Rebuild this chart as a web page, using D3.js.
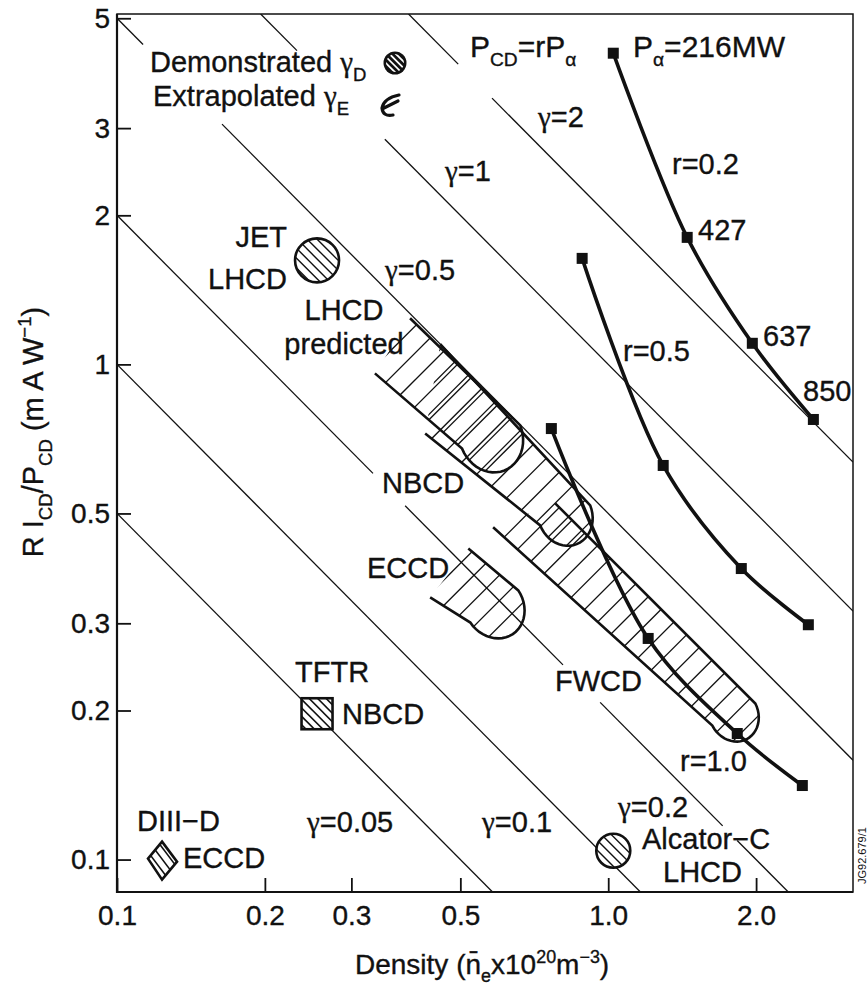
<!DOCTYPE html>
<html>
<head>
<meta charset="utf-8">
<script src="https://cdnjs.cloudflare.com/ajax/libs/d3/7.8.5/d3.min.js"></script>
<style>
  body { margin: 0; background: #fff; }
  svg text { font-family: "Liberation Sans", Arial, Helvetica, sans-serif; fill: #111; stroke: #111; stroke-width: 0.35; }
  svg text .gam { font-family: "Liberation Serif", "DejaVu Serif", serif; }
</style>
</head>
<body>
<svg id="chart" width="867" height="988"></svg>
<script>
// ---------------- data ----------------
var xTicks = [0.1, 0.2, 0.3, 0.5, 1.0, 2.0];
var yTicks = [0.1, 0.2, 0.3, 0.5, 1, 2, 3, 5];

// lines of constant gamma (RI/P = gamma / n)
var gammas = [0.05, 0.1, 0.2, 0.5, 1, 2];
// density ranges where a gamma line is broken for a label
var gammaGaps = {
  "0.2": [[0.332, 0.386], [0.809, 0.963], [1.71, 1.83]],
  "0.5": [[0.113, 0.1636]],
  "1":   [[0.2325, 0.351]],
  "2":   [[0.495, 0.58]]
};

// P_CD = r P_alpha curves  [density, RI/P]
var curveR02 = [[1.024, 4.25], [1.448, 1.805], [1.965, 1.103], [2.616, 0.774]];
var curveR05 = [[0.885, 1.637], [1.294, 0.625], [1.866, 0.387], [2.555, 0.298]];
var curveR10 = [[0.766, 0.742], [1.206, 0.2796], [1.831, 0.1797], [2.484, 0.1411]];

// demonstrated results
var jet     = [0.2554, 1.622];
var alcator = [1.024, 0.1042];
var tftr    = [0.2554, 0.197];
var diiid   = [0.1235, 0.0995];

// predicted regions: upper edge start/end, lower edge start/end
var regionLHCD = {ua: [0.395, 1.239], ub: [0.662, 0.753], la: [0.335, 0.959], lb: [0.504, 0.676]};
var regionNBCD = {ua: [0.455, 1.099], ub: [0.919, 0.519], la: [0.424, 0.725], lb: [0.727, 0.473]};
var regionFWCD = {ua: [0.78, 0.524],  ub: [1.993, 0.2066], la: [0.583, 0.469], lb: [1.629, 0.1865]};
var regionECCD = {ua: [0.519, 0.425], ub: [0.656, 0.3496], la: [0.434, 0.3383], lb: [0.524, 0.301]};

// ---------------- set up ----------------
var svg = d3.select("#chart");
var pLeft = 117, pRight = 853, pTop = 14, pBottom = 892;
var fs = 29;

var x = d3.scaleLog().domain([0.1, 3.15]).range([pLeft, pRight]);
var y = d3.scaleLog().domain([0.086, 5.1]).range([pBottom, pTop]);

svg.append("rect").attr("width", 867).attr("height", 988).attr("fill", "#fff");

svg.append("clipPath").attr("id", "plotclip")
  .append("rect").attr("x", pLeft).attr("y", pTop)
  .attr("width", pRight - pLeft).attr("height", pBottom - pTop);

var plot = svg.append("g").attr("clip-path", "url(#plotclip)");

// text with sub / superscripts; "\u03b3" is set in a serif face like the original
function richText(g, px, py, parts, size, anchor) {
  var t = g.append("text").attr("x", px).attr("y", py)
    .attr("font-size", size).attr("text-anchor", anchor || "start");
  var shift = 0;
  parts.forEach(function(p) {
    var s = p[1] === "sub" ? size * 0.3 : p[1] === "sup" ? -size * 0.4 : 0;
    var bits = p[0].split(/(\u03b3)/);
    bits.forEach(function(b, i) {
      if (!b) return;
      var ts = t.append("tspan").attr("font-size", p[1] ? size * 0.64 : size).text(b);
      if (b === "\u03b3") ts.attr("class", "gam");
      if (shift !== s || i === 0) { ts.attr("dy", s - shift); shift = s; }
    });
  });
  return t;
}

// parallel hatch lines covering a disc of radius R round (cx, cy)
function hatch(g, cx, cy, R, angle, spacing) {
  var a = angle * Math.PI / 180,
      dx = Math.cos(a), dy = Math.sin(a),
      nx = -dy, ny = dx;
  for (var t = -R; t <= R; t += spacing) {
    var px = cx + t * nx, py = cy + t * ny;
    g.append("line")
      .attr("x1", px - R * dx).attr("y1", py - R * dy)
      .attr("x2", px + R * dx).attr("y2", py + R * dy);
  }
}

var clipCount = 0;
function newClip(shapeFn) {
  var id = "clip" + (clipCount++);
  shapeFn(svg.append("clipPath").attr("id", id));
  return "url(#" + id + ")";
}

// ---------------- gamma lines ----------------
gammas.forEach(function(gm) {
  var nLo = Math.max(0.1, gm / 5.1), nHi = Math.min(3.15, gm / 0.086);
  var gaps = gammaGaps[String(gm)] || [];
  var segs = [], start = nLo;
  gaps.forEach(function(gp) { segs.push([start, gp[0]]); start = gp[1]; });
  segs.push([start, nHi]);
  segs.forEach(function(s) {
    plot.append("line")
      .attr("x1", x(s[0])).attr("y1", y(gm / s[0]))
      .attr("x2", x(s[1])).attr("y2", y(gm / s[1]))
      .attr("stroke", "#111").attr("stroke-width", 1.3);
  });
});

// ---------------- hatched predicted regions ----------------
function regionPoints(r) {
  var ua = [x(r.ua[0]), y(r.ua[1])], ub = [x(r.ub[0]), y(r.ub[1])],
      la = [x(r.la[0]), y(r.la[1])], lb = [x(r.lb[0]), y(r.lb[1])];
  var c = [(ub[0] + lb[0]) / 2, (ub[1] + lb[1]) / 2],
      rad = Math.hypot(ub[0] - lb[0], ub[1] - lb[1]) / 2,
      a0 = Math.atan2(ub[1] - c[1], ub[0] - c[0]);
  var s0 = [(ua[0] + la[0]) / 2, (ua[1] + la[1]) / 2];
  // bulge away from the open end, a little longer than a half circle
  var test = a0 + Math.PI / 2;
  var dir = (Math.cos(test) * (c[0] - s0[0]) + Math.sin(test) * (c[1] - s0[1])) > 0 ? 1 : -1;
  var ax = Math.cos(test) * dir, ay = Math.sin(test) * dir;
  var arc = d3.range(0, 25).map(function(i) {
    var a = Math.PI * i / 24;
    var u = Math.cos(a), v = Math.sin(a) * 1.15;
    var ex = Math.cos(a0), ey = Math.sin(a0);
    return [c[0] + rad * (u * ex + v * ax), c[1] + rad * (u * ey + v * ay)];
  });
  return [ua].concat(arc).concat([la]);
}

function drawRegion(r, angle, spacing) {
  var pts = regionPoints(r);
  var xs = pts.map(function(p) { return p[0]; }), ys = pts.map(function(p) { return p[1]; });
  var cx = (d3.min(xs) + d3.max(xs)) / 2, cy = (d3.min(ys) + d3.max(ys)) / 2,
      R = Math.hypot(d3.max(xs) - d3.min(xs), d3.max(ys) - d3.min(ys)) / 2 + 4;
  var clip = newClip(function(cp) {
    cp.append("path").attr("d", "M" + pts.join("L") + "Z");
  });
  var hg = plot.append("g").attr("clip-path", clip)
    .attr("stroke", "#111").attr("stroke-width", 1.3);
  hatch(hg, cx, cy, R, angle, spacing);
  plot.append("path").attr("d", d3.line()(pts))
    .attr("fill", "none").attr("stroke", "#111").attr("stroke-width", 2.6);
}

drawRegion(regionLHCD, -45, 19);
drawRegion(regionNBCD, -45, 19);
drawRegion(regionFWCD, -45, 18);
drawRegion(regionECCD, -45, 18);

// ---------------- r curves ----------------
var line = d3.line().x(function(d) { return x(d[0]); }).y(function(d) { return y(d[1]); })
  .curve(d3.curveCatmullRom.alpha(0.5));

[curveR02, curveR05, curveR10].forEach(function(c) {
  plot.append("path").datum(c).attr("d", line)
    .attr("fill", "none").attr("stroke", "#111").attr("stroke-width", 3.6);
  plot.selectAll(null).data(c).enter().append("rect")
    .attr("x", function(d) { return x(d[0]) - 5.5; })
    .attr("y", function(d) { return y(d[1]) - 5.5; })
    .attr("width", 11).attr("height", 11).attr("fill", "#111");
});

// ---------------- demonstrated points ----------------
function hatchedCircle(pt, rad, spacing) {
  var cx = x(pt[0]), cy = y(pt[1]);
  svg.append("circle").attr("cx", cx).attr("cy", cy).attr("r", rad).attr("fill", "#fff");
  var clip = newClip(function(cp) {
    cp.append("circle").attr("cx", cx).attr("cy", cy).attr("r", rad);
  });
  var hg = svg.append("g").attr("clip-path", clip).attr("stroke", "#111").attr("stroke-width", 1.4);
  hatch(hg, cx, cy, rad, 45, spacing);
  svg.append("circle").attr("cx", cx).attr("cy", cy).attr("r", rad)
    .attr("fill", "none").attr("stroke", "#111").attr("stroke-width", 2.6);
}
hatchedCircle(jet, 22, 7);
hatchedCircle(alcator, 17, 7);

// TFTR square
(function() {
  var cx = x(tftr[0]), cy = y(tftr[1]), h = 15.5;
  svg.append("rect").attr("x", cx - h).attr("y", cy - h).attr("width", 2 * h).attr("height", 2 * h).attr("fill", "#fff");
  var clip = newClip(function(cp) {
    cp.append("rect").attr("x", cx - h).attr("y", cy - h).attr("width", 2 * h).attr("height", 2 * h);
  });
  var hg = svg.append("g").attr("clip-path", clip).attr("stroke", "#111").attr("stroke-width", 1.6);
  hatch(hg, cx, cy, h * 1.5, 45, 6);
  svg.append("rect").attr("x", cx - h).attr("y", cy - h).attr("width", 2 * h).attr("height", 2 * h)
    .attr("fill", "none").attr("stroke", "#111").attr("stroke-width", 2.6);
})();

// DIII-D diamond
(function() {
  var cx = x(diiid[0]), cy = y(diiid[1]);
  var pts = [[cx, cy - 19], [cx + 15, cy + 1], [cx, cy + 19], [cx - 14, cy - 2]];
  var d = "M" + pts.join("L") + "Z";
  svg.append("path").attr("d", d).attr("fill", "#fff");
  var clip = newClip(function(cp) { cp.append("path").attr("d", d); });
  var hg = svg.append("g").attr("clip-path", clip).attr("stroke", "#111").attr("stroke-width", 1.6);
  hatch(hg, cx, cy, 22, 53, 7);
  svg.append("path").attr("d", d).attr("fill", "none").attr("stroke", "#111").attr("stroke-width", 2.6);
})();

// ---------------- axes ----------------
var xAxis = svg.append("g").attr("transform", "translate(0," + pBottom + ")")
  .call(d3.axisBottom(x).tickValues(xTicks).tickFormat(d3.format(".1f"))
    .tickSizeInner(-14).tickSizeOuter(0).tickPadding(13));
var yAxis = svg.append("g").attr("transform", "translate(" + pLeft + ",0)")
  .call(d3.axisLeft(y).tickValues(yTicks).tickFormat(function(d) { return String(d); })
    .tickSizeInner(-14).tickSizeOuter(0).tickPadding(7));
[xAxis, yAxis].forEach(function(a) {
  a.select(".domain").remove();
  a.selectAll(".tick line").attr("stroke", "#111").attr("stroke-width", 1.8);
  a.selectAll(".tick text").attr("font-size", 28).attr("fill", "#111")
    .attr("font-family", "Liberation Sans, Arial, sans-serif");
});

// frame
svg.append("rect").attr("x", pLeft).attr("y", pTop).attr("width", pRight - pLeft).attr("height", pBottom - pTop)
  .attr("fill", "none").attr("stroke", "#111").attr("stroke-width", 1.5);
svg.append("path").attr("d", "M" + pLeft + "," + pTop + "V" + pBottom + "H" + pRight)
  .attr("fill", "none").attr("stroke", "#111").attr("stroke-width", 2.2);

// axis titles
richText(svg, 355, 974, [["Density ("], ["n\u0304"], ["e", "sub"], ["x10"], ["20", "sup"], ["m"], ["\u22123", "sup"], [")"]], 28);
var yt = svg.append("g").attr("transform", "translate(43,432) rotate(-90)");
richText(yt, 0, 0, [["R I"], ["CD", "sub"], ["/P"], ["CD", "sub"], [" (m A W"], ["\u22121", "sup"], [")"]], 29, "middle");

// ---------------- legend ----------------
richText(svg, 150, 72, [["Demonstrated \u03b3"], ["D", "sub"]], fs);
richText(svg, 153, 106, [["Extrapolated \u03b3"], ["E", "sub"]], fs);
(function() {
  var cx = 395, cy = 63, rad = 11.5;
  svg.append("circle").attr("cx", cx).attr("cy", cy).attr("r", rad).attr("fill", "#111");
  var clip = newClip(function(cp) { cp.append("circle").attr("cx", cx).attr("cy", cy).attr("r", rad - 2.5); });
  var hg = svg.append("g").attr("clip-path", clip).attr("stroke", "#fff").attr("stroke-width", 1.8);
  hatch(hg, cx, cy, rad, 45, 4.5);
  svg.append("path")
    .attr("d", "M399,95 Q384,98 382,108 Q383,117 393,115 M384,108 L398,101")
    .attr("fill", "none").attr("stroke", "#111").attr("stroke-width", 3.2).attr("stroke-linecap", "round");
})();

// ---------------- labels ----------------
function label(px, py, s, anchor) {
  richText(svg, px, py, [[s]], fs, anchor);
}
label(287, 247, "JET", "end");
label(287, 289, "LHCD", "end");
label(344, 320, "LHCD", "middle");
label(344, 354, "predicted", "middle");
label(385, 280, "\u03b3=0.5");
label(445, 181, "\u03b3=1");
label(538, 127, "\u03b3=2");
richText(svg, 470, 57, [["P"], ["CD", "sub"], ["=rP"], ["\u03b1", "sub"]], 30);
richText(svg, 633, 57, [["P"], ["\u03b1", "sub"], ["=216MW"]], 30);
label(672, 174, "r=0.2");
label(698, 240, "427");
label(763, 346, "637");
label(803, 401, "850");
label(623, 361, "r=0.5");
label(382, 493, "NBCD");
label(367, 578, "ECCD");
label(555, 691, "FWCD");
label(680, 771, "r=1.0");
label(618, 817, "\u03b3=0.2");
label(642, 849, "Alcator\u2212C");
label(663, 882, "LHCD");
label(482, 832, "\u03b3=0.1");
label(307, 832, "\u03b3=0.05");
label(295, 682, "TFTR");
label(342, 724, "NBCD");
label(137, 831, "DIII\u2212D");
label(183, 868, "ECCD");

svg.append("text").attr("transform", "translate(866,884) rotate(-90)")
  .attr("font-size", 11).style("stroke-width", 0).text("JG92.679/1");
</script>
</body>
</html>
